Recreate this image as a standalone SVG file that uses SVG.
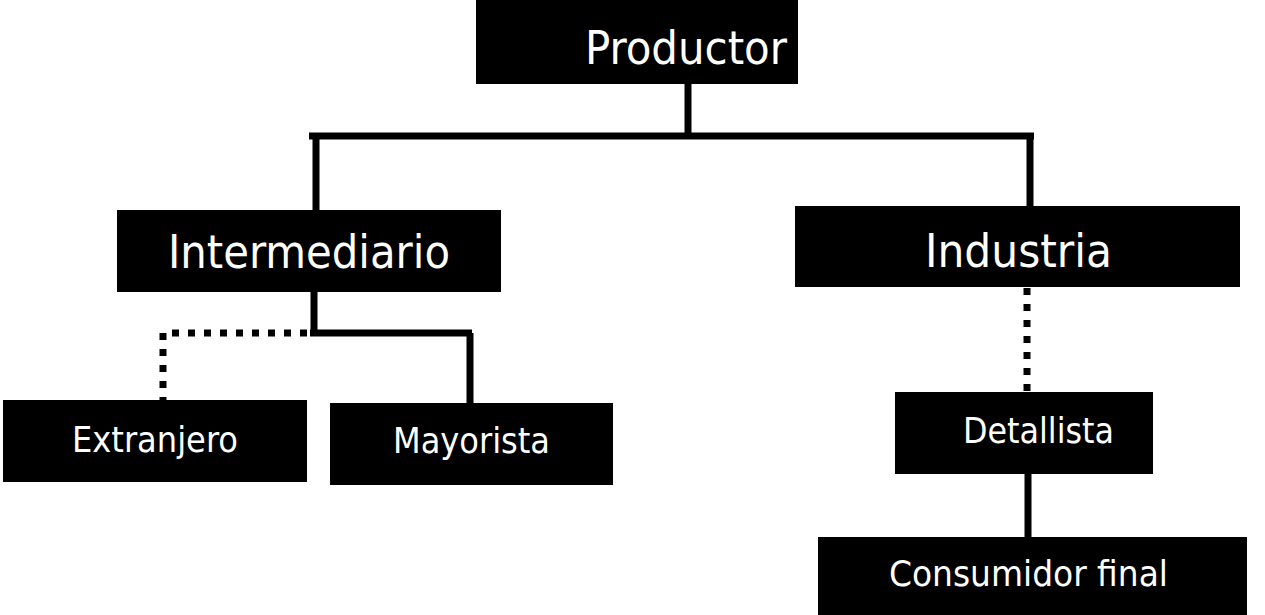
<svg xmlns="http://www.w3.org/2000/svg" width="1265" height="615" viewBox="0 0 1265 615">
<style>
.box{fill:#000}
.t{fill:#fff;font-family:"DejaVu Sans Condensed","DejaVu Sans",sans-serif}
.big{font-size:46px}
.small{font-size:35px}
.c{stroke:#000;stroke-width:7;fill:none}
.d{stroke:#000;stroke-width:7;fill:none;stroke-dasharray:7 9}
</style>
<rect width="1265" height="615" fill="#fff"/>
<g id="connectors">
<line class="c" x1="688" y1="84" x2="688" y2="136"/>
<line class="c" x1="309" y1="136" x2="1034" y2="136"/>
<line class="c" x1="316" y1="136" x2="316" y2="210"/>
<line class="c" x1="1030" y1="136" x2="1030" y2="206"/>
<line class="c" x1="314" y1="292" x2="314" y2="333"/>
<line class="c" x1="310" y1="333" x2="472" y2="333"/>
<line class="c" x1="470" y1="333" x2="470" y2="403"/>
<path class="d" d="M307 333 H163 V400"/>
<line class="d" x1="1027" y1="288" x2="1027" y2="392"/>
<line class="c" x1="1028" y1="474" x2="1028" y2="538"/>
</g>
<g id="productor">
<rect class="box" x="476" y="0" width="322" height="84"/>
<text class="t big" x="585" y="64" textLength="202" lengthAdjust="spacingAndGlyphs">Productor</text>
</g>
<g id="intermediario">
<rect class="box" x="117" y="210" width="384" height="82"/>
<text class="t big" x="168" y="268" textLength="282" lengthAdjust="spacingAndGlyphs">Intermediario</text>
</g>
<g id="industria">
<rect class="box" x="795" y="206" width="445" height="81"/>
<text class="t big" x="925" y="267" textLength="187" lengthAdjust="spacingAndGlyphs">Industria</text>
</g>
<g id="extranjero">
<rect class="box" x="3" y="400" width="304" height="82"/>
<text class="t small" x="72" y="452" textLength="166" lengthAdjust="spacingAndGlyphs">Extranjero</text>
</g>
<g id="mayorista">
<rect class="box" x="330" y="403" width="283" height="82"/>
<text class="t small" x="393" y="453" textLength="157" lengthAdjust="spacingAndGlyphs">Mayorista</text>
</g>
<g id="detallista">
<rect class="box" x="895" y="392" width="258" height="82"/>
<text class="t small" x="963" y="443" textLength="151" lengthAdjust="spacingAndGlyphs">Detallista</text>
</g>
<g id="consumidor">
<rect class="box" x="818" y="537" width="429" height="78"/>
<text class="t small" x="889" y="586" textLength="279" lengthAdjust="spacingAndGlyphs">Consumidor final</text>
</g>
</svg>
